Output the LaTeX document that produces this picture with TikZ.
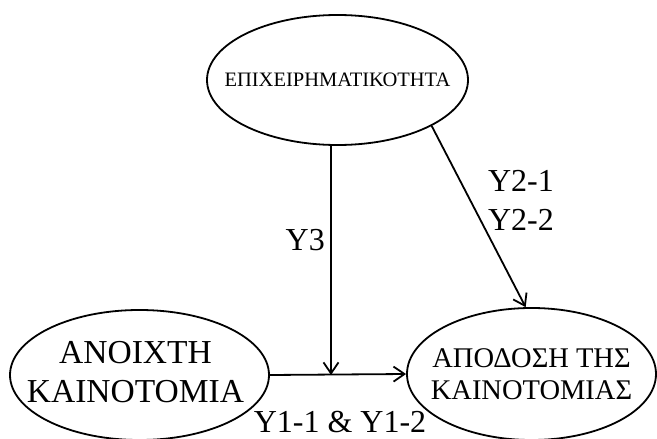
\documentclass[tikz,border=0pt]{standalone}
\usepackage{fontspec}
\setmainfont{Liberation Serif}
\usetikzlibrary{shapes.geometric,arrows.meta}
\begin{document}
\begin{tikzpicture}[x=1pt,y=1pt,
  oval/.style={ellipse, draw, line width=1.8pt, inner sep=0pt},
  link/.style={line width=1.8pt, -{Straight Barb[length=11pt,width=15pt,line width=1.8pt]}},
  lab/.style={font=\fontsize{32}{39}\selectfont, align=center, inner sep=0pt}]
\useasboundingbox (0,0) rectangle (657,-439);

\node[oval, minimum width=261pt, minimum height=130pt,
  label={[font=\fontsize{20.5}{25}\selectfont]center:ΕΠΙΧΕΙΡΗΜΑΤΙΚΟΤΗΤΑ}] (ent) at (337.5,-80) {};
\node[oval, minimum width=259pt, minimum height=130pt,
  label={[font=\fontsize{33.5}{39}\selectfont, align=center, yshift=3pt, xshift=-4pt]center:ΑΝΟΙΧΤΗ\\ΚΑΙΝΟΤΟΜΙΑ}] (open) at (139.5,-375) {};
\node[oval, minimum width=249pt, minimum height=132pt,
  label={[font=\fontsize{28.5}{32}\selectfont, align=center]center:ΑΠΟΔΟΣΗ ΤΗΣ\\ΚΑΙΝΟΤΟΜΙΑΣ}] (perf) at (531.5,-374) {};

\coordinate (cross) at (331,-375);

\draw[link] (open.east) -- (perf.west);
\draw[link] (ent.south -| cross) -- (cross);
\draw[link] (ent.-26) -- (perf.95);

\node[lab, anchor=east] (y3) at (325,-240) {Y3};
\node[lab] (y2) at (521,-200) {Y2-1\\Y2-2};
\node[lab] (y1) at (340,-422) {Y1-1 \& Y1-2};
\end{tikzpicture}
\end{document}
